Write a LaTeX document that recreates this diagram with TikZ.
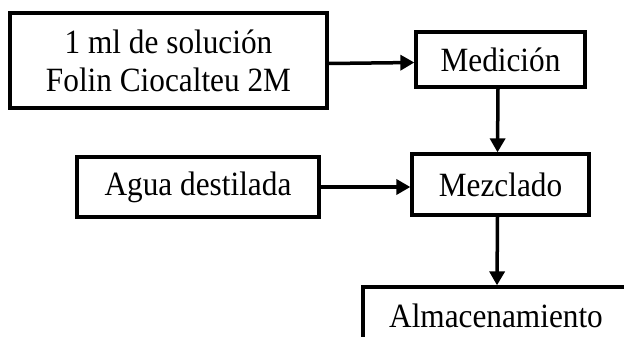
\documentclass[tikz,border=0pt]{standalone}
\usepackage{fontspec}
\setmainfont{Liberation Serif}[FakeStretch=0.92]
\usetikzlibrary{arrows.meta}
\begin{document}
\begin{tikzpicture}[x=1pt,y=-1pt,
  boxnode/.style={draw=black, line width=3.3pt, rectangle, inner sep=0pt,
    font=\fontsize{34}{38}\selectfont, align=center},
  arr/.style={line width=3.5pt, -{Triangle[length=14pt,width=15pt]}}]
\useasboundingbox (0,0) rectangle (624,337);
\clip (0,0) rectangle (624,337);
\node[boxnode, minimum width=317pt, minimum height=95pt] (sol) at (168.5,60.5) {1 ml de solución\\Folin Ciocalteu 2M};
\node[boxnode, minimum width=169pt, minimum height=55pt] (med) at (500.5,59.5) {Medición};
\node[boxnode, minimum width=242pt, minimum height=60pt] (agua) at (198,187) {Agua destilada};
\node[boxnode, minimum width=177pt, minimum height=61pt] (mez) at (500.5,184.5) {Mezclado};
\node[boxnode, minimum width=266pt, minimum height=58pt] (alm) at (496,316) {Almacenamiento};
\draw[arr] ([yshift=-3pt]sol.east) -- ([yshift=-3pt]med.west);
\draw[arr] ([xshift=-2.5pt]med.south) -- ([xshift=-3pt]mez.north);
\draw[arr] (agua.east) -- (agua.east -| mez.west);
\draw[arr] ([xshift=-3pt]mez.south) -- ([xshift=1pt]alm.north);
\end{tikzpicture}
\end{document}
